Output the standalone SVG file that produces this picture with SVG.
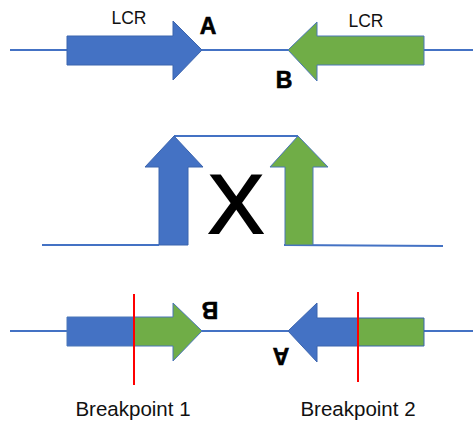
<svg xmlns="http://www.w3.org/2000/svg" width="473" height="421" viewBox="0 0 473 421">
  <style>
    .strand { fill: none; stroke: #4472C4; stroke-width: 2; }
    .blue { fill: #4472C4; stroke: #3B64AE; stroke-width: 1; }
    .green { fill: #70AD47; stroke: #4A76B8; stroke-width: 1; }
    .cut { stroke: #FF0000; stroke-width: 2; }
    .label { font-family: "Liberation Sans", Arial, sans-serif; fill: #111; }
    .end { font-family: "Liberation Sans", Arial, sans-serif; font-weight: bold; font-size: 23px; fill: #000; stroke: #000; stroke-width: 0.6; }
  </style>

  <!-- connecting strands -->
  <g id="connectors">
    <line class="strand" x1="10" y1="50" x2="67" y2="50"/>
    <line class="strand" x1="202" y1="50" x2="288" y2="50"/>
    <line class="strand" x1="424" y1="50" x2="473" y2="50"/>

    <line class="strand" x1="42" y1="245" x2="159" y2="245"/>
    <line class="strand" x1="284" y1="245" x2="443" y2="246"/>
    <line class="strand" x1="174" y1="136" x2="298" y2="136"/>

    <line class="strand" x1="10" y1="331" x2="67" y2="331"/>
    <line class="strand" x1="202" y1="331" x2="288" y2="331"/>
    <line class="strand" x1="424" y1="331" x2="473" y2="331"/>
  </g>

  <!-- top row: two inverted LCRs -->
  <g id="lcr-left">
    <polygon class="blue" points="67,36 173,36 173,21 202,50 173,80 173,65 67,65"/>
    <text class="label" x="129" y="24" font-size="17.5" text-anchor="middle">LCR</text>
  </g>
  <g id="label-a">
    <text class="end" x="208" y="34" text-anchor="middle">A</text>
  </g>
  <g id="lcr-right">
    <polygon class="green" points="424,36 317,36 317,22 288,50 317,81 317,65 424,65"/>
    <text class="label" x="366" y="27" font-size="17.5" text-anchor="middle">LCR</text>
  </g>
  <g id="label-b">
    <text class="end" x="284" y="88" text-anchor="middle">B</text>
  </g>

  <!-- middle row: looped strand with recombining LCRs -->
  <g id="lcr-up-left">
    <polygon class="blue" points="159,245 159,167 145,167 174,136 203,167 188,167 188,245"/>
  </g>
  <g id="lcr-up-right">
    <polygon class="green" points="285,245 285,167 270,167 298,136 328,167 313,167 313,245"/>
  </g>
  <g id="crossover">
    <text x="236" y="233" font-family="Liberation Sans, Arial, sans-serif" font-size="84" text-anchor="middle" fill="#000" stroke="#000" stroke-width="2">X</text>
  </g>

  <!-- bottom row: hybrid LCRs after inversion -->
  <g id="hybrid-left">
    <rect x="67" y="317" width="67" height="29" fill="#4472C4"/>
    <polygon points="134,317 173,317 173,303 202,331 173,361 173,346 134,346" fill="#70AD47"/>
    <polygon points="67,317 173,317 173,303 202,331 173,361 173,346 67,346" fill="none" stroke="#4A76B8" stroke-width="1"/>
    <line class="cut" x1="134" y1="294" x2="134" y2="385"/>
    <text class="end" transform="translate(210,302) rotate(180)" text-anchor="middle">B</text>
    <text class="label" x="133" y="416" font-size="20.5" text-anchor="middle">Breakpoint 1</text>
  </g>
  <g id="hybrid-right">
    <polygon points="358,318 317,318 317,303 288,331 317,362 317,346 358,346" fill="#4472C4"/>
    <rect x="358" y="318" width="66" height="28" fill="#70AD47"/>
    <polygon points="424,318 317,318 317,303 288,331 317,362 317,346 424,346" fill="none" stroke="#3B64AE" stroke-width="1"/>
    <line class="cut" x1="358" y1="292" x2="358" y2="382"/>
    <text class="end" transform="translate(281,348) rotate(180)" text-anchor="middle">A</text>
    <text class="label" x="358" y="416" font-size="20.5" text-anchor="middle">Breakpoint 2</text>
  </g>
</svg>
